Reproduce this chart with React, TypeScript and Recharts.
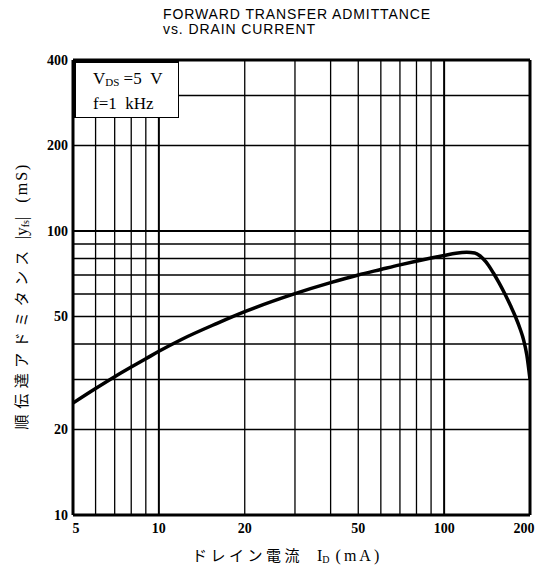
import React from 'react';
import { LineChart, Line, XAxis, YAxis, ReferenceLine } from 'recharts';

// drain current I_D (mA) and forward transfer admittance |yfs| (mS)
const current = [5, 6, 7, 8, 9, 10, 12, 16, 20, 30, 40, 50, 60, 70, 80, 90, 100, 110, 120, 128, 133, 137, 143, 149, 156, 164, 171, 178, 185, 190, 195, 200];
const admittance = [24.8, 27.9, 30.7, 33.2, 35.5, 37.7, 41.5, 47.3, 52, 60.2, 65.8, 70, 73.2, 76, 78.3, 80.3, 82, 83.5, 84.1, 83.6, 82, 79.8, 75.8, 71, 65.5, 59.5, 54.5, 49.8, 45, 41.3, 36.5, 30];

const xTicks = [5, 10, 20, 50, 100, 200];
const yTicks = [10, 20, 50, 100, 200, 400];

const xGrid = [6, 7, 8, 9, 10, 20, 30, 40, 50, 60, 70, 80, 90, 100];
const yGrid = [20, 30, 40, 50, 60, 70, 80, 90, 100, 200, 300];
const heavy = [10, 100];

const data = current.map((id, i) => ({ id, yfs: admittance[i] }));

const serif = '"Liberation Serif", serif';
const jp = '"Noto Sans CJK JP", sans-serif';

const tickStyle = {
  fill: '#000',
  fontFamily: serif,
  fontWeight: 700,
  fontSize: 14,
};

// end labels sit a little inside the frame
const XTick = ({ x, y, payload }: any) => {
  const v = payload.value;
  const dx = v === 200 ? -6 : v === 5 ? 3 : 0;
  return (
    <text x={x + dx} y={y} dy={10} textAnchor="middle" {...tickStyle}>
      {v}
    </text>
  );
};

export default function App() {
  return (
    <div style={{ position: 'absolute', left: 0, top: 0, width: 543, height: 571, background: '#fff' }}>
      <LineChart
        width={543}
        height={571}
        data={data}
        margin={{ top: 60, right: 13, bottom: 26, left: 0 }}
      >
        <XAxis
          dataKey="id"
          type="number"
          scale="log"
          domain={[5, 200]}
          ticks={xTicks}
          allowDataOverflow
          height={30}
          tickLine={false}
          axisLine={{ stroke: '#000', strokeWidth: 3 }}
          tick={<XTick />}
          interval={0}
        />
        <YAxis
          type="number"
          scale="log"
          domain={[10, 400]}
          ticks={yTicks}
          allowDataOverflow
          width={73}
          tickLine={false}
          axisLine={{ stroke: '#000', strokeWidth: 3 }}
          tick={tickStyle}
          tickMargin={-1}
          interval={0}
        />
        {xGrid.map((v) => (
          <ReferenceLine key={'x' + v} x={v} stroke="#000" strokeWidth={heavy.includes(v) ? 2 : 1.3} />
        ))}
        {yGrid.map((v) => (
          <ReferenceLine key={'y' + v} y={v} stroke="#000" strokeWidth={heavy.includes(v) ? 2 : 1.3} />
        ))}
        <ReferenceLine y={400} stroke="#000" strokeWidth={3} />
        <ReferenceLine x={200} stroke="#000" strokeWidth={3} />
        <Line
          type="monotone"
          dataKey="yfs"
          stroke="#000"
          strokeWidth={3.5}
          dot={false}
          isAnimationActive={false}
        />
      </LineChart>

      {/* title */}
      <div
        style={{
          position: 'absolute',
          left: 163,
          top: 7,
          fontFamily: '"Liberation Sans", sans-serif',
          fontSize: 14,
          letterSpacing: 0.9,
          lineHeight: '15px',
          color: '#000',
          whiteSpace: 'nowrap',
        }}
      >
        FORWARD TRANSFER ADMITTANCE
        <br />
        vs. DRAIN CURRENT
      </div>

      {/* conditions box */}
      <div
        style={{
          position: 'absolute',
          left: 73,
          top: 60,
          width: 106,
          height: 58,
          background: '#fff',
          borderTop: '3px solid #000',
          borderLeft: '3px solid #000',
          borderRight: '1.5px solid #000',
          borderBottom: '1.5px solid #000',
          boxSizing: 'border-box',
          fontFamily: serif,
          fontSize: 17,
          color: '#000',
          paddingLeft: 17,
          paddingTop: 5,
          lineHeight: '21px',
          whiteSpace: 'nowrap',
        }}
      >
        <div>
          V<sub style={{ fontSize: 11, verticalAlign: '-2px' }}>DS</sub> =5&nbsp;&nbsp;V
        </div>
        <div>f=1&nbsp;&nbsp;kHz</div>
      </div>

      {/* x axis title */}
      <div
        style={{
          position: 'absolute',
          left: 192,
          top: 545,
          lineHeight: '20px',
          fontSize: 15,
          color: '#000',
          whiteSpace: 'nowrap',
        }}
      >
        <span style={{ fontFamily: jp, letterSpacing: 3.5 }}>ドレイン電流</span>
        <span style={{ fontFamily: serif, marginLeft: 14, fontSize: 16 }}>
          I<sub style={{ fontSize: 10, verticalAlign: '-2px' }}>D</sub>
        </span>
        <span style={{ fontFamily: serif, marginLeft: 6, fontSize: 16, letterSpacing: 3 }}>(mA)</span>
      </div>

      {/* y axis title */}
      <div
        style={{
          position: 'absolute',
          left: 21 - 160,
          top: 296 - 10,
          width: 320,
          height: 20,
          lineHeight: '20px',
          textAlign: 'center',
          transform: 'rotate(-90deg)',
          fontSize: 15,
          color: '#000',
          whiteSpace: 'nowrap',
        }}
      >
        <span style={{ fontFamily: jp, letterSpacing: 5.5 }}>順伝達アドミタンス</span>
        <span style={{ fontFamily: serif, marginLeft: 6, fontSize: 17 }}>
          |y<sub style={{ fontSize: 10, verticalAlign: '-2px' }}>fs</sub>|
        </span>
        <span style={{ fontFamily: serif, marginLeft: 14, fontSize: 16, letterSpacing: 2 }}>(mS)</span>
      </div>
    </div>
  );
}
